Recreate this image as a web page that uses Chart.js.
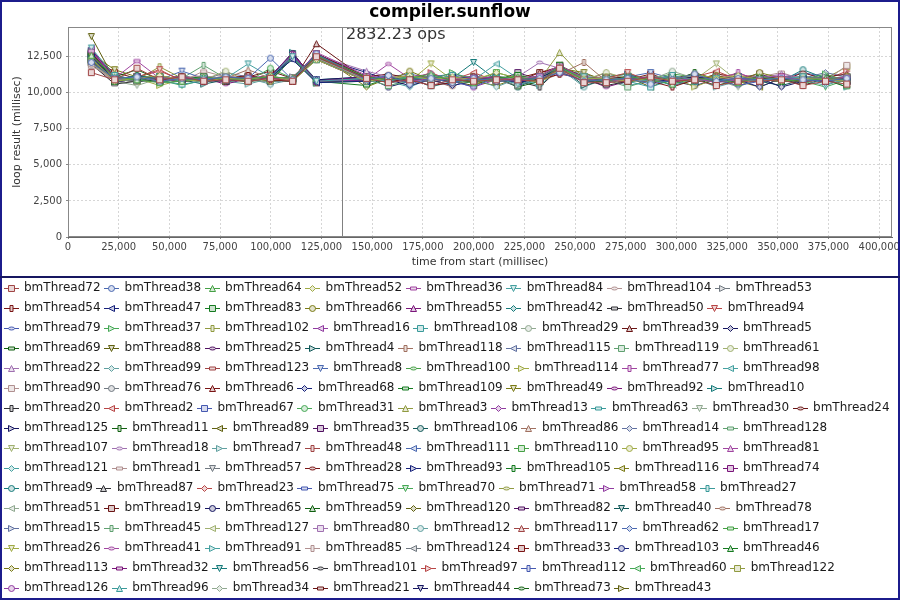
<!DOCTYPE html>
<html>
<head>
<meta charset="utf-8">
<title>compiler.sunflow</title>
<script src="https://cdn.jsdelivr.net/npm/chart.js@4.4.1/dist/chart.umd.min.js"></script>
<style>
  html, body { margin: 0; padding: 0; background: #fff; }
  #wrap { width: 900px; height: 600px; }
</style>
</head>
<body>
<div id="wrap"><canvas id="chart" width="900" height="600"></canvas></div>
<script>
// Threads, in legend order
const threadIds = [
  72, 38, 64, 52, 36, 84, 104, 53,
  54, 47, 83, 66, 55, 42, 50, 94,
  79, 37, 102, 16, 108, 29, 39, 5,
  69, 88, 25, 4, 118, 115, 119, 61,
  22, 99, 123, 8, 100, 114, 77, 98,
  90, 76, 6, 68, 109, 49, 92, 10,
  20, 2, 67, 31, 3, 13, 63, 30, 24,
  125, 11, 89, 35, 106, 86, 14, 128,
  107, 18, 7, 48, 111, 110, 95, 81,
  121, 1, 57, 28, 93, 105, 116, 74,
  9, 87, 23, 75, 70, 71, 58, 27,
  51, 19, 65, 59, 120, 82, 40, 78,
  15, 45, 127, 80, 12, 117, 62, 17,
  26, 41, 91, 85, 124, 33, 103, 46,
  113, 32, 56, 101, 97, 112, 60, 122,
  126, 96, 34, 21, 44, 73, 43
];

// End of each loop (millisec since start)
const loopTimes = [
  11500, 23000, 34000, 45200, 56200, 66900, 77800, 88800, 99800, 110700, 122500,
  147200, 158000, 168500, 179000, 189500, 200000, 211200, 221800, 232600, 242400, 254400,
  265400, 276000, 287300, 298000, 309000, 319700, 330400, 341000, 351800, 362400, 373500, 384000
];

// Loop result per thread (hundreds of millisec), same order as threadIds
const loopResults = [
  [114,109,117,109,111,108,109,108,110,108,125, 110,107,109,105,109,108,109,109,108,117,107,107,108,111,108,109,105,108,108,109,105,108,106], // 72
  [121,110,111,108,110,109,111,110,124,109,127, 109,112,106,110,107,110,108,109,110,114,108,109,110,106,109,113,108,110,109,110,109,108,110], // 38
  [126,111,109,107,108,111,109,110,111,110,126, 111,109,110,113,108,107,110,111,108,118,109,108,111,109,106,110,109,107,111,109,108,110,109], // 64
  [124,108,110,112,109,108,110,109,112,108,123, 108,110,112,109,111,109,114,110,107,116,110,110,108,110,109,113,110,112,109,108,110,109,108], // 52
  [129,110,122,110,111,109,108,111,110,109,128, 112,110,108,110,109,111,110,109,112,119,110,108,109,111,108,110,107,109,110,112,108,109,111], // 36
  [131,112,109,111,108,110,110,120,111,125,108, 110,108,111,109,112,108,110,106,108,117,111,109,110,108,112,109,110,108,109,110,111,106,109], // 84
  [119,109,111,108,110,112,109,110,109,110,124, 109,112,109,108,110,109,108,111,110,115,109,111,109,108,110,108,111,109,108,111,109,110,108], // 104
  [122,110,108,110,109,109,111,108,110,111,126, 108,109,110,111,108,110,109,105,111,118,108,109,108,110,111,109,108,110,109,108,110,111,109], // 53
  [127,111,110,109,111,108,110,112,109,108,127, 111,108,109,105,107,111,108,110,109,113,110,110,109,108,104,109,111,108,110,109,108,109,110], // 54
  [125,109,111,110,109,110,108,110,111,123,107, 108,110,109,108,111,110,109,107,110,117,109,108,110,109,108,111,109,110,108,109,110,108,109], // 47
  [128,108,110,108,110,111,109,109,110,109,125, 110,111,108,110,109,108,110,112,109,119,108,110,108,109,111,109,108,109,110,108,109,110,108], // 83
  [123,110,109,111,108,109,110,111,108,110,126, 109,108,115,109,110,109,108,110,109,116,111,109,110,108,109,110,112,108,114,110,108,109,111], // 66
  [130,111,110,109,111,108,109,110,112,127,108, 111,109,108,110,109,110,111,108,110,114,109,110,109,111,108,109,110,108,111,109,110,108,109], // 55
  [124,109,112,110,109,110,108,111,109,108,124, 108,110,109,111,108,109,110,109,108,117,110,108,111,109,110,108,109,110,108,110,109,111,108], // 42
  [120,106,108,109,110,109,111,108,110,109,127, 110,109,110,108,109,111,108,110,111,115,109,105,108,110,109,111,108,109,110,108,110,109,110], // 50
  [126,108,111,116,108,110,109,111,109,110,125, 109,111,108,109,110,108,109,110,108,118,110,110,114,108,111,109,110,108,109,111,108,110,109], // 94
  [128,111,109,108,110,108,110,109,111,108,126, 111,108,109,110,108,104,111,109,110,116,108,109,110,109,108,110,109,105,108,109,110,108,110], // 79
  [123,109,110,111,109,110,108,110,109,124,107, 108,110,111,109,114,109,108,111,109,117,110,108,109,110,109,108,110,109,111,108,109,113,108], // 37
  [125,110,109,118,110,109,111,108,110,109,124, 110,109,108,110,111,108,109,110,109,115,108,111,108,109,110,109,108,110,109,110,108,109,111], // 102
  [131,108,111,109,108,111,110,109,110,126,108, 109,111,110,108,109,110,109,108,110,119,109,109,110,108,111,109,110,108,109,110,109,111,108], // 16
  [124,111,110,108,106,108,109,111,109,110,125, 108,109,111,110,108,109,110,109,111,117,108,110,108,104,109,108,111,109,110,108,110,109,110], // 108
  [120,109,108,110,109,110,111,109,108,109,126, 110,108,109,108,110,111,108,113,109,116,110,108,110,109,115,110,109,111,108,109,111,108,109], // 29
  [129,110,111,109,110,109,108,110,111,108,134, 109,110,108,111,109,108,110,109,108,118,111,109,111,108,110,109,108,110,109,108,110,109,108], // 39
  [126,108,109,110,111,108,110,109,110,125,109, 111,109,105,109,108,110,109,111,110,115,109,110,109,110,108,111,109,108,110,104,108,110,109], // 5
  [122,110,110,108,109,110,109,108,110,110,127, 108,111,109,110,109,108,111,104,108,117,109,109,108,111,109,110,105,109,110,111,109,108,110], // 69
  [139,109,108,111,110,109,110,110,109,108,124, 110,108,110,109,111,109,108,109,110,119,108,108,110,109,111,108,110,109,108,110,109,110,108], // 88
  [127,111,110,109,108,110,111,109,111,128,107, 109,110,108,110,109,111,109,108,109,116,110,110,109,108,110,109,111,110,109,108,110,109,111], // 25
  [124,109,111,110,109,106,109,111,108,109,125, 110,109,111,108,110,109,110,108,111,118,105,109,110,109,108,110,109,108,111,110,108,110,109], // 4
  [121,110,109,108,111,110,108,110,110,108,126, 108,111,109,110,108,110,109,110,108,113,121,108,109,110,109,111,108,110,109,109,110,108,110], // 118
  [128,108,110,111,109,109,110,109,111,124,108, 111,108,110,109,110,108,111,109,110,117,108,110,109,108,111,109,110,109,108,110,109,111,108], // 115
  [125,111,109,110,108,111,109,110,109,110,123, 109,105,108,111,109,110,108,111,109,116,110,109,104,109,108,110,109,110,109,108,111,109,110], // 119
  [123,109,111,108,110,109,115,108,110,109,127, 110,109,111,109,108,110,109,108,110,118,109,114,110,111,109,108,110,109,110,109,108,110,109], // 61
  [130,110,109,110,109,108,111,110,109,108,126, 115,111,108,110,110,109,110,109,108,117,111,110,108,109,110,111,109,108,110,113,110,109,108], // 22
  [124,109,110,109,111,110,108,109,110,127,108, 110,108,109,111,109,110,104,110,111,116,109,109,110,108,109,110,111,109,108,110,109,105,110], // 99
  [122,111,108,110,110,109,110,111,109,110,125, 108,110,111,109,108,111,110,108,109,119,110,110,109,111,108,109,110,108,111,109,110,109,108], // 123
  [127,108,111,109,115,110,109,110,111,109,124, 111,109,110,108,111,109,108,110,109,117,108,108,111,114,110,108,109,111,109,110,108,110,109], // 8
  [125,110,109,111,110,108,110,109,110,125,107, 109,111,108,110,109,110,111,109,108,116,110,109,108,110,109,111,108,109,110,109,111,108,110], // 100
  [121,109,110,105,109,111,109,108,109,108,126, 110,108,110,109,110,108,109,111,110,118,109,110,109,108,111,104,110,108,109,110,109,110,108], // 114
  [126,110,111,110,108,109,110,111,110,110,123, 108,109,111,113,109,110,108,109,111,117,108,109,110,109,108,110,109,114,108,109,110,108,109], // 77
  [124,111,109,109,111,110,108,109,108,109,125, 110,111,109,108,110,109,120,110,109,116,111,108,110,109,110,108,111,109,110,108,109,110,111], // 98
  [119,108,110,110,109,108,111,110,109,108,127, 109,110,108,110,111,109,110,108,110,118,109,110,108,111,109,110,108,109,111,110,109,108,119], // 90
  [128,110,111,108,110,110,109,108,111,126,108, 111,109,109,110,108,111,109,110,108,115,110,109,110,108,109,111,110,109,108,110,109,110,108], // 76
  [123,109,110,110,109,111,108,110,109,110,126, 108,110,109,108,111,109,108,110,114,117,109,111,109,110,108,109,111,108,110,109,108,111,113], // 6
  [125,111,108,109,110,108,110,109,110,108,124, 110,108,111,109,105,108,110,109,111,118,110,108,110,109,111,108,110,109,104,110,109,108,110], // 68
  [122,109,110,111,108,110,109,111,110,125,108, 105,110,108,111,109,109,111,108,110,116,108,110,109,108,110,111,109,110,109,108,111,109,104], // 109
  [127,116,111,110,109,109,110,108,111,109,125, 111,109,110,108,109,110,108,110,109,117,114,108,111,110,109,108,110,109,111,109,110,108,109], // 49
  [124,110,109,108,111,110,106,110,108,110,127, 108,111,109,110,108,111,109,109,110,118,110,104,108,110,111,109,108,110,109,111,108,110,109], // 92
  [129,109,110,109,110,108,111,109,110,128,107, 110,109,111,109,110,108,110,111,109,115,109,110,109,111,108,110,109,108,110,109,111,109,108], // 10
  [121,110,109,111,108,110,109,110,109,109,126, 109,108,110,109,111,110,109,108,104,117,108,110,111,109,110,108,109,111,108,110,105,110,108], // 20
  [126,108,110,109,111,109,108,111,110,108,124, 111,110,109,108,109,114,108,110,109,118,111,108,109,110,108,111,115,109,110,108,110,109,111], // 2
  [124,111,109,110,109,110,110,109,111,124,109, 108,110,111,109,108,110,111,109,110,116,110,109,110,108,111,109,108,110,109,111,109,108,110], // 67
  [128,109,111,108,110,109,111,108,117,110,125, 110,109,108,111,110,109,108,110,108,117,109,111,113,109,110,108,111,109,110,108,109,111,109], // 31
  [123,110,108,110,111,108,109,110,110,108,127, 109,111,110,108,109,110,109,111,109,128,110,108,110,111,109,110,108,109,111,109,110,108,110], // 3
  [125,109,110,109,109,111,108,110,109,126,108, 111,108,109,110,111,108,110,109,110,115,108,110,109,108,110,111,109,110,108,110,108,109,111], // 13
  [120,111,109,111,108,110,109,109,110,109,124, 110,109,111,104,108,110,108,110,111,118,109,109,111,110,105,109,110,108,109,110,111,110,108], // 63
  [127,108,105,110,109,109,111,110,108,110,126, 108,110,109,111,110,109,111,108,109,117,111,110,108,109,111,110,109,104,110,108,109,111,109], // 30
  [124,110,111,108,110,110,108,111,109,108,125, 111,113,110,108,109,111,109,110,108,116,110,111,109,110,108,109,111,110,109,108,114,109,110], // 24
  [129,109,109,110,108,111,110,109,110,127,107, 109,110,108,110,111,108,109,111,110,118,109,108,110,109,110,108,109,110,111,109,108,110,109], // 125
  [122,111,116,109,111,108,109,110,111,109,126, 110,108,111,109,110,109,110,108,109,117,108,110,109,111,108,114,109,108,110,111,109,110,108], // 11
  [126,108,110,111,109,110,108,109,110,108,123, 109,111,109,110,108,105,111,109,110,119,110,109,111,104,110,109,111,109,108,110,109,108,111], // 89
  [124,110,109,108,110,109,111,110,109,110,127, 111,109,110,108,110,109,108,114,109,116,109,110,108,110,109,111,108,110,113,108,110,109,110], // 35
  [128,109,111,110,108,110,109,111,108,125,108, 108,110,109,111,109,108,110,104,111,117,111,109,110,109,108,110,109,111,108,105,109,111,108], // 106
  [121,111,110,109,111,109,110,116,110,109,125, 110,108,110,109,110,111,109,108,110,118,108,114,109,108,110,109,110,108,111,109,108,110,109], // 86
  [125,108,109,110,109,111,108,110,111,108,126, 109,111,113,110,108,109,110,111,109,115,110,108,110,111,109,108,111,109,110,108,110,114,111], // 14
  [127,110,110,108,110,109,110,109,110,126,108, 110,109,111,108,110,110,108,109,110,117,109,110,108,109,111,110,108,110,109,111,108,109,110], // 128
  [123,109,111,109,108,110,111,109,108,110,124, 111,110,109,110,109,108,111,110,109,116,110,109,111,108,110,109,120,108,110,109,111,108,109], // 107
  [126,110,108,110,111,109,110,110,109,108,127, 108,109,110,111,108,110,109,111,121,117,109,108,110,109,111,108,109,110,108,111,110,109,108], // 18
  [124,111,110,111,109,110,108,106,110,109,125, 109,110,108,109,110,109,111,108,110,118,108,110,109,111,108,110,104,108,111,109,110,108,110], // 7
  [122,108,109,108,110,111,109,109,111,124,107, 111,108,110,110,109,111,108,110,109,116,110,109,108,110,109,111,110,109,108,110,109,111,108], // 48
  [128,109,111,109,108,110,110,108,110,108,126, 110,111,109,108,111,109,110,109,108,117,109,110,111,109,110,108,109,111,110,108,110,109,111], // 111
  [125,110,109,110,111,108,111,109,109,110,123, 109,108,111,109,110,108,114,110,111,119,111,108,109,110,113,111,109,110,109,111,108,110,109], // 110
  [127,111,110,109,109,110,108,110,111,126,108, 108,110,109,111,108,110,111,109,110,116,108,111,110,108,109,110,108,109,111,110,109,108,110], // 95
  [123,108,110,111,110,109,110,109,108,109,127, 111,109,110,108,110,109,108,111,109,117,110,109,108,111,110,109,111,108,110,109,108,110,109], // 81
  [126,110,109,108,109,111,109,110,110,110,124, 110,108,104,110,111,108,110,109,108,118,109,110,105,108,109,110,109,110,108,111,110,109,108], // 121
  [124,109,111,110,108,115,111,108,111,108,125, 109,110,111,109,108,111,109,108,110,116,111,108,110,109,111,108,110,109,111,114,109,110,111], // 1
  [129,111,110,109,110,108,109,111,109,125,109, 110,109,108,110,109,110,108,110,111,117,109,110,108,110,109,111,108,109,110,109,111,108,109], // 57
  [121,110,108,110,111,109,110,109,110,109,126, 108,111,110,109,110,109,111,109,108,118,110,108,109,111,110,108,109,110,109,110,108,111,110], // 28
  [125,108,109,111,109,110,108,110,111,110,125, 114,109,108,110,108,110,109,111,110,116,108,111,113,108,109,110,111,108,110,109,110,109,108], // 93
  [128,110,111,110,108,109,111,109,108,124,108, 109,110,111,108,109,111,110,108,109,115,110,109,108,110,111,109,108,110,109,108,110,109,110], // 105
  [122,109,110,108,110,111,109,111,109,108,127, 110,108,110,111,109,108,105,110,109,117,111,110,109,108,110,111,109,108,104,110,109,108,110], // 116
  [126,111,109,110,109,108,110,108,110,110,124, 108,111,109,110,108,110,111,109,108,118,109,108,110,109,111,108,110,109,108,110,111,109,108], // 74
  [124,110,110,109,111,110,108,110,109,109,126, 109,110,108,109,111,109,110,108,111,116,108,109,111,110,108,110,109,111,109,108,116,110,109], // 9
  [127,108,109,111,110,109,111,109,110,127,108, 111,109,110,108,110,111,109,110,109,117,110,109,108,111,109,110,108,110,109,111,108,109,110], // 87
  [123,110,111,115,109,110,109,110,111,108,125, 110,108,109,111,109,110,108,109,110,118,109,111,109,108,110,109,111,113,110,108,110,111,109], // 23
  [125,109,110,110,108,111,110,108,109,110,126, 109,111,110,109,108,109,111,110,108,116,111,108,110,109,108,111,110,108,109,110,109,108,111], // 75
  [121,111,108,109,105,109,108,111,110,109,124, 108,110,109,110,111,108,110,109,111,117,110,109,108,110,111,109,108,110,111,109,108,104,109], // 70
  [128,110,110,111,109,108,110,109,111,125,107, 110,109,111,108,109,110,109,111,110,118,108,110,109,111,109,108,110,109,108,111,110,109,108], // 71
  [124,108,109,110,111,110,109,110,108,110,127, 111,108,110,109,110,109,108,110,109,116,109,111,110,108,110,109,111,108,110,109,108,111,110], // 58
  [126,109,111,109,108,109,111,108,110,108,125, 109,110,108,111,108,111,110,109,110,117,110,108,109,111,109,110,108,109,111,110,109,108,109], // 27
  [122,111,110,108,110,111,109,110,109,126,108, 110,109,110,109,111,108,109,111,108,115,111,109,110,108,110,111,109,110,108,109,111,110,108], // 51
  [127,110,109,110,109,110,108,109,111,109,124, 108,111,109,110,109,110,111,108,114,118,109,110,108,110,109,108,113,111,109,110,108,109,110], // 19
  [124,109,110,111,110,108,110,111,110,108,126, 111,104,108,109,110,111,109,110,108,117,110,109,111,109,108,105,109,110,108,111,109,110,108], // 65
  [129,108,111,109,108,110,109,110,109,124,109, 109,108,110,111,109,108,110,109,111,116,108,110,109,111,109,110,108,109,110,108,110,111,109], // 59
  [123,110,109,108,111,109,111,108,110,110,125, 110,109,111,108,110,109,108,111,110,118,111,109,108,110,111,109,110,108,109,111,110,109,110], // 120
  [125,111,110,110,109,111,109,110,109,109,123, 108,110,109,110,108,110,109,110,109,116,109,110,111,109,108,111,109,110,110,108,109,110,111], // 82
  [128,109,108,110,110,109,110,109,111,127,108, 111,109,108,110,111,109,110,108,110,117,110,108,110,109,111,108,109,111,108,110,109,108,110], // 40
  [121,110,111,109,108,110,111,110,108,110,126, 109,110,110,109,104,111,110,109,111,118,108,111,109,110,109,110,108,110,109,111,105,110,109], // 78
  [126,108,110,110,111,109,114,111,110,109,124, 110,108,111,110,109,108,109,111,110,116,113,109,110,108,111,109,110,109,111,108,110,109,108], // 15
  [124,111,109,108,110,119,110,109,110,108,127, 109,111,108,109,110,111,108,109,110,117,109,110,108,111,110,108,111,109,108,110,111,109,110], // 45
  [127,109,110,111,109,110,109,108,111,125,108, 110,109,110,108,111,109,110,110,108,115,111,108,110,109,110,111,109,108,110,109,108,110,111], // 127
  [122,110,111,109,110,108,110,111,109,110,125, 108,110,109,111,108,110,109,111,109,118,110,109,111,108,109,110,108,111,109,110,109,108,110], // 80
  [125,108,109,110,108,111,109,110,106,109,126, 111,109,108,110,109,111,108,109,110,117,104,110,109,110,111,108,109,110,108,111,110,109,108], // 12
  [128,111,110,109,111,110,108,109,108,126,107, 109,110,111,109,110,108,111,109,110,116,109,111,110,109,108,110,109,111,110,108,109,110,109], // 117
  [123,109,110,108,109,109,111,110,111,108,124, 110,108,110,111,113,110,109,108,111,118,110,108,109,111,110,109,111,108,109,110,114,111,109], // 62
  [126,110,109,111,110,108,109,111,109,110,127, 108,111,109,108,110,109,110,111,109,116,111,109,110,108,109,111,110,109,110,108,111,109,110], // 17
  [124,109,111,110,108,110,110,108,110,125,109, 110,109,108,120,109,111,108,110,108,117,109,110,108,111,109,108,110,109,111,109,110,108,109], // 26
  [121,108,110,109,111,109,110,109,111,109,125, 109,120,110,109,111,108,109,110,111,118,108,109,111,110,108,110,109,111,108,109,110,109,111], // 41
  [127,111,109,110,109,111,108,110,109,110,124, 111,108,109,110,108,110,111,109,105,117,110,111,109,108,110,109,108,110,109,111,109,110,104], // 91
  [125,110,110,108,110,109,111,109,110,127,108, 108,109,111,109,110,109,108,111,110,116,109,108,110,109,111,108,110,109,110,108,109,111,110], // 85
  [122,109,111,111,108,110,109,111,108,108,126, 110,111,108,110,109,111,110,108,109,118,111,109,108,110,109,111,109,108,111,110,108,109,110], // 124
  [126,114,110,109,110,109,110,110,111,109,125, 109,110,109,108,111,110,109,110,108,117,110,110,109,113,108,110,109,110,108,109,111,110,108], // 33
  [124,111,109,110,111,108,109,108,110,110,123, 111,109,110,111,108,109,110,109,111,116,108,109,111,110,109,108,111,109,110,108,110,109,111], // 103
  [128,109,110,108,109,111,110,110,109,124,108, 110,108,109,110,109,108,111,110,109,117,111,108,110,109,108,111,110,109,108,110,109,111,109], // 46
  [123,110,111,110,108,110,109,111,110,108,127, 104,110,111,109,110,111,109,108,110,118,109,110,109,108,111,110,109,105,109,111,108,110,108], // 113
  [126,108,109,109,111,109,111,109,108,110,124, 109,111,110,108,109,110,108,111,109,116,110,109,111,110,108,109,110,108,111,109,110,108,110], // 32
  [125,111,110,111,110,108,110,108,110,127,109, 111,109,108,111,110,121,109,110,108,117,108,111,110,109,110,108,111,109,110,108,109,110,109], // 56
  [122,109,108,110,109,111,109,110,111,109,126, 110,108,110,109,111,109,110,108,111,118,109,108,110,111,109,110,108,110,109,111,109,108,110], // 101
  [127,110,110,109,111,110,108,111,109,110,125, 108,110,109,114,108,110,111,109,110,116,110,109,108,110,111,109,110,109,108,110,111,109,115], // 97
  [124,108,111,108,110,109,111,109,110,125,108, 109,111,108,110,109,111,108,110,109,117,111,110,109,108,110,109,111,108,110,109,108,111,109], // 112
  [121,111,109,110,110,108,110,109,111,108,127, 111,109,110,108,110,109,110,111,108,118,108,109,111,110,108,110,109,111,109,108,110,109,110], // 60
  [126,109,110,111,109,110,109,110,108,110,124, 110,108,109,111,109,110,108,110,111,116,109,111,110,109,111,108,110,109,108,111,109,110,118], // 122
  [124,110,111,109,108,111,110,109,110,109,126, 109,110,111,109,108,104,109,111,109,117,110,108,109,111,105,109,108,110,111,109,108,110,109], // 126
  [128,108,109,110,110,109,111,108,109,126,107, 110,109,108,110,111,109,110,109,108,116,111,109,110,108,109,111,110,108,109,110,111,109,108], // 96
  [123,111,110,108,111,110,108,110,111,108,125, 108,111,110,109,110,108,111,110,109,118,109,110,108,110,109,111,109,110,108,110,109,111,110], // 34
  [125,109,108,110,109,109,110,111,115,110,127, 111,110,109,108,109,111,108,109,110,117,110,109,111,109,110,113,110,109,111,108,110,109,108], // 21
  [127,110,110,109,110,108,109,109,111,109,124, 109,108,110,111,108,110,110,111,109,116,108,110,109,111,108,110,111,108,109,110,108,110,109], // 44
  [122,111,109,111,108,110,110,108,110,125,108, 110,111,109,110,109,108,111,110,108,117,109,111,108,110,109,111,108,110,109,111,109,108,110], // 73
  [126,109,110,108,111,109,111,110,109,108,125, 111,109,110,109,110,111,109,108,110,118,110,109,111,108,110,109,110,111,108,109,110,108,111]  // 43
];

// Start of the measurement period and its throughput
const measureStart = 135000;
const measureLabel = '2832.23 ops';

// Axis ranges and tick values
const xMax = 406300;
const yMax = 14560;
const xTicks = [0, 25000, 50000, 75000, 100000, 125000, 150000, 175000, 200000,
  225000, 250000, 275000, 300000, 325000, 350000, 375000, 400000];
const yTicks = [0, 2500, 5000, 7500, 10000, 12500];

// Series colours and marker shapes cycle like the original renderer
const seriesColors = [
  '#a04545', '#4a68b0', '#45a045', '#a0aa45', '#a045a0', '#45a0a0', '#b09090', '#707880',
  '#7a1515', '#15207a', '#157a20', '#7a7a15', '#7a157a', '#157a7a', '#303035',
  '#b84545', '#4558b0', '#45a855', '#909a40', '#903aa0', '#3a9a9a', '#90a890',
  '#6a1515', '#151560', '#106010', '#606010', '#501060', '#105858',
  '#a07060', '#6070a0', '#60a070', '#a0b070', '#a070b0', '#60a0a0'
];

function tint(hex, k) {
    const n = parseInt(hex.slice(1), 16);
    const mix = c => Math.round(c + (255 - c) * k);
    return `rgb(${mix((n >> 16) & 255)}, ${mix((n >> 8) & 255)}, ${mix(n & 255)})`;
}

function traceShape(ctx, shape, cx, cy) {
    ctx.beginPath();
    switch (shape) {
        case 0: ctx.rect(cx - 3, cy - 3, 6, 6); break;
        case 1: ctx.arc(cx, cy, 3, 0, Math.PI * 2); break;
        case 2: ctx.moveTo(cx, cy - 3); ctx.lineTo(cx + 3, cy + 3); ctx.lineTo(cx - 3, cy + 3); ctx.closePath(); break;
        case 3: ctx.moveTo(cx, cy - 3); ctx.lineTo(cx + 3, cy); ctx.lineTo(cx, cy + 3); ctx.lineTo(cx - 3, cy); ctx.closePath(); break;
        case 4: ctx.rect(cx - 3, cy - 1.5, 6, 3); break;
        case 5: ctx.moveTo(cx - 3, cy - 3); ctx.lineTo(cx + 3, cy - 3); ctx.lineTo(cx, cy + 3); ctx.closePath(); break;
        case 6: ctx.ellipse(cx, cy, 3, 1.5, 0, 0, Math.PI * 2); break;
        case 7: ctx.moveTo(cx - 3, cy - 3); ctx.lineTo(cx + 3, cy); ctx.lineTo(cx - 3, cy + 3); ctx.closePath(); break;
        case 8: ctx.rect(cx - 1.5, cy - 3, 3, 6); break;
        default: ctx.moveTo(cx + 3, cy - 3); ctx.lineTo(cx - 3, cy); ctx.lineTo(cx + 3, cy + 3); ctx.closePath();
    }
}

// Marker image, optionally with the short legend line through it
function makeMarker(shape, color, fill, withLine) {
    const c = document.createElement('canvas');
    c.width = withLine ? 15 : 9;
    c.height = 9;
    const ctx = c.getContext('2d');
    ctx.lineWidth = 1;
    ctx.strokeStyle = color;
    if (withLine) {
        ctx.beginPath();
        ctx.moveTo(0, 4.5);
        ctx.lineTo(15, 4.5);
        ctx.stroke();
    }
    traceShape(ctx, shape, c.width / 2, 4.5);
    ctx.fillStyle = fill;
    ctx.fill();
    ctx.stroke();
    return c;
}

const lineSets = [];
const pointSets = [];
threadIds.forEach((id, i) => {
    const color = seriesColors[i % seriesColors.length];
    const fill = tint(color, 0.78);
    const points = loopResults[i].map((v, j) => ({ x: loopTimes[j], y: v * 100 }));
    lineSets.push({
        label: 'bmThread' + id,
        data: points,
        borderColor: color,
        backgroundColor: fill,
        borderWidth: 1,
        pointRadius: 0,
        tension: 0,
        fill: false,
        order: 1,
        legendSymbol: makeMarker(i % 10, color, fill, true)
    });
    // markers go in their own sets so they sit above every line
    pointSets.push({
        label: 'bmThread' + id + ' points',
        data: points,
        showLine: false,
        borderColor: color,
        backgroundColor: fill,
        pointStyle: makeMarker(i % 10, color, fill, false),
        pointRadius: 3,
        order: 0
    });
});

const LEGEND_BOX = 14;

// Frames, plot outline, legend symbols and the measurement marker
const decorations = {
    id: 'decorations',
    beforeDraw(chart) {
        const ctx = chart.ctx;
        ctx.save();
        ctx.fillStyle = '#fff';
        ctx.fillRect(0, 0, chart.width, chart.height);
        ctx.restore();
    },
    afterDatasetsDraw(chart) {
        const { ctx, chartArea: a, scales } = chart;
        const x = Math.round(scales.x.getPixelForValue(measureStart)) + 0.5;
        ctx.save();
        ctx.strokeStyle = '#808080';
        ctx.lineWidth = 1;
        ctx.beginPath();
        ctx.moveTo(x, a.top);
        ctx.lineTo(x, a.bottom);
        ctx.stroke();
        ctx.fillStyle = '#333';
        ctx.font = '16px "DejaVu Sans"';
        ctx.textBaseline = 'alphabetic';
        ctx.fillText(measureLabel, x + 3.5, a.top + 11.5);
        ctx.restore();
    },
    afterDraw(chart) {
        const { ctx, chartArea: a } = chart;
        ctx.save();
        // legend symbols: short line with the series marker
        chart.legend.legendHitBoxes.forEach((box, i) => {
            const img = lineSets[i].legendSymbol;
            ctx.drawImage(img, Math.round(box.left + LEGEND_BOX / 2 - img.width / 2),
                Math.round(box.top + 8 - img.height / 2));
        });
        ctx.strokeStyle = '#888';
        ctx.lineWidth = 1;
        ctx.strokeRect(a.left + 0.5, a.top + 0.5, a.right - a.left - 1, a.bottom - a.top - 1);
        ctx.strokeStyle = '#1c1c8c';
        ctx.lineWidth = 2;
        ctx.strokeRect(1, 1, chart.width - 2, chart.height - 2);
        ctx.strokeStyle = '#161660';
        ctx.beginPath();
        ctx.moveTo(0, 277);
        ctx.lineTo(chart.width, 277);
        ctx.stroke();
        ctx.restore();
    }
};

Chart.defaults.font.family = '"DejaVu Sans", sans-serif';

const tickFont = { family: '"DejaVu Sans"', size: 10 };
const titleFont = { family: '"DejaVu Sans"', size: 11 };

new Chart(document.getElementById('chart'), {
    type: 'line',
    data: { datasets: lineSets.concat(pointSets) },
    options: {
        responsive: false,
        animation: false,
        events: [],
        layout: { padding: 0 },
        plugins: {
            title: {
                display: true,
                text: 'compiler.sunflow',
                color: '#000',
                font: { family: '"DejaVu Sans"', size: 17, weight: 'bold' },
                padding: { top: 2, bottom: 4.6 }
            },
            legend: {
                position: 'bottom',
                align: 'start',
                maxHeight: 324,
                labels: {
                    boxWidth: LEGEND_BOX,
                    boxHeight: 16,
                    padding: 4,
                    color: '#1a1a1a',
                    font: { family: '"DejaVu Sans"', size: 12 },
                    generateLabels: chart => lineSets.map((ds, i) => ({
                        text: ds.label,
                        fillStyle: 'rgba(0,0,0,0)',
                        strokeStyle: 'rgba(0,0,0,0)',
                        lineWidth: 0,
                        hidden: false,
                        datasetIndex: i,
                        fontColor: '#1a1a1a'
                    }))
                }
            },
            tooltip: { enabled: false }
        },
        scales: {
            x: {
                type: 'linear',
                min: 0,
                max: xMax,
                afterBuildTicks: s => { s.ticks = xTicks.map(value => ({ value })); },
                afterFit: s => { s.height = 39; s.paddingLeft = 0; s.paddingRight = 8; },
                ticks: { autoSkip: false, maxRotation: 0, padding: 2, color: '#444', font: tickFont },
                grid: { color: '#d6d6d6', tickColor: '#888', tickLength: 2, tickBorderDash: [] },
                border: { color: '#666', dash: [2, 2] },
                title: { display: true, text: 'time from start (millisec)', color: '#333', font: titleFont, padding: { top: 0, bottom: 7 } }
            },
            y: {
                min: 0,
                max: yMax,
                afterBuildTicks: s => { s.ticks = yTicks.map(value => ({ value })); },
                afterFit: s => { s.width = 68; },
                ticks: { padding: 4, color: '#444', font: tickFont },
                grid: { color: '#d6d6d6', tickColor: '#888', tickLength: 2, tickBorderDash: [] },
                border: { color: '#666', dash: [2, 2] },
                title: { display: true, text: 'loop result (millisec)', color: '#333', font: titleFont, padding: { top: 11, bottom: 0 } }
            }
        }
    },
    plugins: [decorations]
});
</script>
</body>
</html>
